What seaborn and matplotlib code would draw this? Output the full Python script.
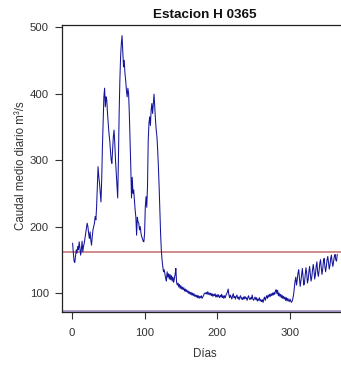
import numpy as np
import pandas as pd
import matplotlib
matplotlib.use("Agg")
import matplotlib.pyplot as plt
import seaborn as sns

# Daily mean discharge (m3/s) for station H 0365, one value per day
caudal = [
    175, 160, 148, 146, 155, 165, 160, 170, 165, 177,
    168, 157, 165, 178, 162, 170, 175, 182, 190, 198,
    205, 200, 190, 182, 192, 180, 172, 185, 195, 200,
    205, 215, 210, 230, 260, 290, 275, 265, 250, 237,
    270, 320, 360, 395, 408, 380, 395, 390, 370, 355,
    340, 330, 315, 300, 295, 315, 335, 345, 325, 300,
    280, 260, 243, 300, 370, 420, 455, 475, 487, 465,
    440, 450, 430, 420, 405, 395, 408, 400, 370, 330,
    290, 243, 274, 250, 255, 240, 225, 214, 187, 214,
    207, 205, 195, 200, 190, 185, 182, 178, 177, 190,
    230, 245, 229, 260, 330, 355, 365, 352, 375, 385,
    370, 385, 399, 378, 360, 345, 335, 315, 290, 260,
    225, 190, 165, 150, 140, 132, 135, 128, 122, 118,
    132, 124, 129, 121, 128, 120, 126, 118, 124, 116,
    122, 128, 137, 116, 112, 115, 109, 113, 107, 111,
    106, 109, 105, 108, 103, 106, 102, 105, 101, 103,
    99, 102, 98, 101, 97, 100, 96, 99, 95, 97,
    94, 97, 93, 96, 92, 95, 93, 96, 92, 94,
    96, 99, 100, 99, 101, 98, 102, 98, 100, 97,
    100, 96, 99, 95, 98, 96, 99, 94, 97, 94,
    98, 95, 93, 97, 94, 98, 93, 96, 92, 96,
    93, 97, 99, 102, 106, 97, 93, 97, 94, 91,
    96, 99, 93, 95, 91, 95, 97, 92, 94, 90,
    94, 96, 91, 93, 90, 94, 91, 95, 92, 93,
    89, 93, 96, 92, 90, 93, 91, 97, 91, 89,
    92, 94, 90, 93, 88, 91, 89, 93, 88, 90,
    87, 90, 86, 91, 94, 89, 93, 96, 92, 97,
    94, 98, 95, 99, 96, 100, 97, 101, 98, 103,
    105, 99, 104, 96, 100, 95, 98, 93, 97, 92,
    95, 91, 94, 89, 93, 88, 92, 89, 87, 91,
    88, 86, 88, 92, 98, 108, 118, 124, 112, 120,
    130, 135, 122, 110, 118, 128, 137, 125, 112, 116,
    128, 138, 130, 115, 120, 132, 140, 128, 118, 124,
    135, 143, 134, 121, 128, 140, 147, 132, 125, 133,
    145, 150, 138, 128, 136, 148, 152, 140, 132, 140,
    150, 155, 145, 136, 142, 152, 157, 146, 140, 148,
    155, 158, 150, 148, 158,
]
dias = list(range(1, len(caudal) + 1))

# Reference levels drawn as horizontal lines
nivel_alto = 161
nivel_bajo = 73

x_ticks = [0, 100, 200, 300]
y_ticks = [100, 200, 300, 400, 500]

df = pd.DataFrame({"Dias": dias, "Caudal": caudal})

sns.set_theme(style="ticks")
plt.rcParams["font.family"] = ["Liberation Sans", "DejaVu Sans"]

W, H = 341, 365
fig = plt.figure(figsize=(W / 100, H / 100), dpi=100)
fig.patch.set_facecolor("white")

xlim = (-13.6, 379.6)
ylim = (71.5, 503)
left_px, top_px, bottom_px = 62, 25, 312
px_per_day = 0.727
width_px = (xlim[1] - xlim[0]) * px_per_day
ax = fig.add_axes([left_px / W, 1 - bottom_px / H, width_px / W, (bottom_px - top_px) / H])
ax.set_facecolor("white")

ax.axhline(nivel_alto, color="#cf8c8c", lw=1.4, zorder=1)
ax.axhline(nivel_bajo, color="#ab9fcc", lw=1.4, zorder=1)

sns.lineplot(data=df, x="Dias", y="Caudal", ax=ax, color="#14149a", lw=0.75, zorder=3)

ax.set_xlim(*xlim)
ax.set_ylim(*ylim)
ax.set_xticks(x_ticks)
ax.set_yticks(y_ticks)
ax.tick_params(axis="both", direction="out", length=5, width=0.8, colors="#333333",
               labelsize=8.2)
ax.tick_params(axis="y", pad=4.5)
ax.tick_params(axis="x", pad=6.5)
for s in ax.spines.values():
    s.set_color("#222222")
    s.set_linewidth(0.9)

ax.set_xlabel("")
ax.set_ylabel("")
fig.text(205 / W, 1 - 354 / H, "Días", ha="center", va="center",
         fontsize=8.3, color="#333333")
fig.text(21 / W, 1 - 166 / H, "Caudal medio diario m³/s", ha="center", va="center",
         rotation=90, fontsize=8.3, color="#333333")

fig.text(205 / W, 1 - 15 / H, "Estacion H 0365", ha="center", va="center",
         fontsize=9.7, fontweight="bold", color="#111111")

fig.savefig("out.png", dpi=100, facecolor="white")
